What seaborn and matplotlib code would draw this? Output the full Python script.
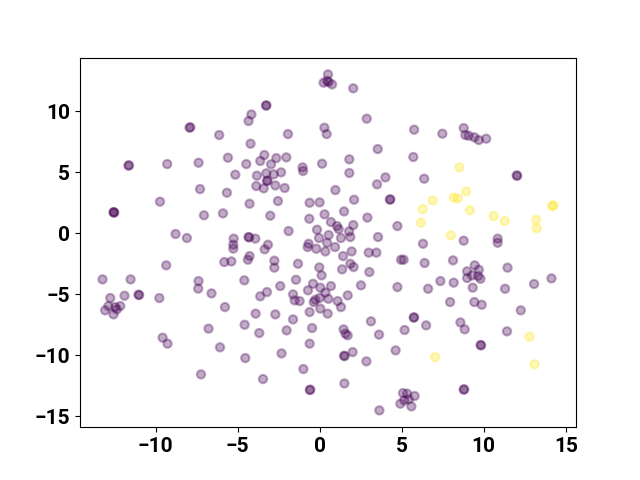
import numpy as np
import pandas as pd
import matplotlib
matplotlib.use('Agg')
import matplotlib.pyplot as plt
import seaborn as sns


# ── Data (2-D embedding, two classes) ─────────────────────────────────────────
purple_x = [
    -7.93, -7.88, -6.12, -11.65, -11.62, -9.29, -7.38, -5.59, -5.14, -7.29, -5.65,
    -9.73, -7.05, -5.89, -12.54, -12.52, -12.56, -8.78,
    0.51, 0.24, 0.45, 0.55, 0.76, 2.05, -3.27, -3.24, -4.16, -4.33, 2.87, 0.29, 0.43,
    -1.93, -4.21, 3.54, -4.47, -3.37, -3.62, -2.96, -2.64, -2.03, -1.04, -1.01, 0.15,
    1.81, 1.81, -3.82, -3.25, -2.80, -2.35, -3.21, -3.18, -3.86, -3.41, -2.70, -2.13,
    0.96, 4.01, 3.50, 4.31, 4.28, -4.27, -2.54, -0.61, 0.0, 2.10, -3.01, -0.63, 0.30,
    1.49, 2.91, 4.74, 0.69, 1.06, 1.16, 2.05, 1.79, -0.16, -1.89, 0.55,
    5.76, 7.48, 8.78, 8.88, 9.09, 9.43, 9.70, 10.15, 5.71, 6.37, 12.01, 12.04,
    -8.09, -5.24, -5.26, -5.26, -9.35, -5.81, -5.38, -13.23, -11.52, -12.76, -11.89,
    -11.04, -11.00, -12.87, -12.46, -12.15, -12.36, -13.07, -12.56, -9.77, -7.38,
    -7.40, -6.59, -5.77, -9.57, -9.27, -6.77, -6.07, -7.23,
    -4.33, -4.30, -3.92, -3.15, -3.35, -4.27, -4.37, -2.76, -2.76, -4.59, -1.32,
    -0.67, -0.73, -0.04, -0.20, 0.45, 0.35, 0.94, 1.30, 1.87, 1.43, 1.95, 1.87, 2.07,
    1.37, -0.02, 0.12, 2.99, 3.46, 3.56, 4.96, 5.12, 3.03, -1.44, -2.40, -0.40, 0.04,
    0.69, 0.35, -0.71, -1.62, -1.52, -1.22, -0.36, -0.26, 0.0, 0.53, 1.10, 1.30, 1.71,
    2.52, 0.04, 0.49, -0.61, -3.62, -3.21, -3.90, -2.70, -1.62, -4.57, -3.68, -2.01,
    -0.46, -0.61, 1.46, 1.57, 1.71, 3.13, 3.62, 1.52, 1.49, 2.01, 2.85, -4.53, -2.32,
    -0.99, -3.45, -0.57, -0.60, 1.51, 3.64, 4.63, 4.74,
    6.30, 8.78, 10.85, 10.85, 6.40, 8.13, 6.61, 7.36, 8.17, 8.99, 9.45, 9.70, 8.99,
    9.29, 9.66, 9.80, 9.33, 11.45, 11.30, 13.07, 14.13, 7.95, 9.43, 9.88, 12.26,
    5.73, 5.76, 6.49, 5.18, 8.58, 8.84, 11.42, 9.84, 9.81, 8.78, 8.81,
    5.08, 5.33, 5.16, 5.43, 5.79, 4.92, 5.59,
]
purple_y = [
    8.66, 8.70, 8.06, 5.55, 5.58, 5.68, 5.79, 6.20, 4.81, 3.63, 3.33,
    2.60, 1.48, 1.64, 1.72, 1.70, 1.74, -0.05,
    13.03, 12.35, 12.50, 12.40, 12.21, 11.89, 10.47, 10.50, 9.75, 9.21, 9.40, 8.66, 8.14,
    8.14, 7.35, 6.91, 5.68, 6.42, 5.93, 5.66, 6.17, 6.23, 5.41, 5.11, 5.71,
    6.07, 4.95, 4.73, 4.92, 4.84, 5.00, 4.29, 4.32, 3.88, 3.69, 3.93, 3.72,
    3.55, 4.59, 4.02, 2.79, 2.76, 2.43, 2.65, 2.51, 2.54, 2.76, 1.45, 1.20, 1.56,
    1.80, 1.29, 0.60, 0.93, 0.60, 0.35, 0.68, 0.16, 0.30, 0.19, -0.14,
    8.50, 8.17, 8.63, 8.06, 8.00, 7.87, 7.65, 7.76, 6.26, 4.48, 4.75, 4.72,
    -0.38, -0.43, -0.93, -1.25, -2.62, -2.35, -2.30, -3.77, -3.77, -5.30, -5.11,
    -5.03, -5.05, -5.96, -6.04, -5.96, -6.23, -6.31, -6.64, -5.30, -3.91,
    -4.53, -4.92, -6.04, -8.55, -9.04, -7.81, -9.34, -11.56,
    -0.30, -0.33, -0.43, -0.93, -1.31, -1.86, -2.16, -2.24, -2.81, -3.85, -2.49,
    -0.85, -1.12, -0.38, -1.26, -0.77, -1.48, -1.12, -0.38, -0.30, -1.86, -1.48, -2.49, -2.76,
    -2.95, -2.79, -3.44, -1.58, -1.58, -0.30, -2.16, -2.16, -3.17, -3.80, -4.32, -4.13, -4.45,
    -4.32, -4.86, -4.67, -5.00, -5.49, -5.55, -5.63, -5.44, -5.30, -5.36, -5.55, -6.04, -5.08,
    -4.26, -6.17, -6.58, -6.45, -5.16, -4.81, -6.58, -6.64, -7.05, -7.49, -8.17, -7.95,
    -7.76, -9.04, -7.87, -8.22, -8.36, -7.21, -8.30, -10.06, -10.03, -9.73, -10.49, -10.22, -9.84,
    -11.12, -11.94, -12.81, -12.84, -12.30, -14.51, -9.59, -4.40,
    -0.85, -0.60, -0.43, -0.77, -2.43, -2.21, -4.54, -3.91, -4.04, -3.11, -2.62, -2.98, -3.66,
    -3.44, -3.50, -3.72, -4.45, -2.81, -4.54, -4.15, -3.69, -5.63, -5.63, -5.85, -6.31,
    -6.91, -6.88, -7.54, -7.92, -7.30, -7.87, -8.03, -9.18, -9.15, -12.81, -12.78,
    -13.09, -13.14, -13.69, -13.61, -13.33, -13.96, -14.18,
]
yellow_x = [8.52, 8.93, 6.89, 8.17, 8.42, 6.28, 9.15, 14.17, 14.25, 6.18,
            10.61, 11.28, 13.20, 13.23, 7.99, 7.04, 12.79, 13.09]
yellow_y = [5.41, 3.44, 2.70, 2.93, 2.87, 1.99, 1.89, 2.24, 2.30, 0.87,
            1.42, 1.01, 1.12, 0.41, -0.16, -10.14, -8.47, -10.74]

CLASS_COLORS = {0: plt.cm.viridis(0.0), 1: plt.cm.viridis(1.0)}


# ── Build frame ───────────────────────────────────────────────────────────────
df = pd.DataFrame({
    'x': purple_x + yellow_x,
    'y': purple_y + yellow_y,
    'label': [0] * len(purple_x) + [1] * len(yellow_x),
})


# ── Plot ──────────────────────────────────────────────────────────────────────
fig, ax = plt.subplots(figsize=(6.4, 4.8), dpi=100)
sns.scatterplot(data=df, x='x', y='y', hue='label', palette=CLASS_COLORS,
                s=36, alpha=0.33, edgecolor='face', linewidth=1.5,
                legend=False, ax=ax)
ax.set_xlabel('')
ax.set_ylabel('')
for lbl in ax.get_xticklabels() + ax.get_yticklabels():
    lbl.set_fontfamily(['Roboto', 'DejaVu Sans'])
    lbl.set_fontweight('bold')
    lbl.set_fontsize(15)

plt.savefig('out.png', dpi=100)
plt.close()
